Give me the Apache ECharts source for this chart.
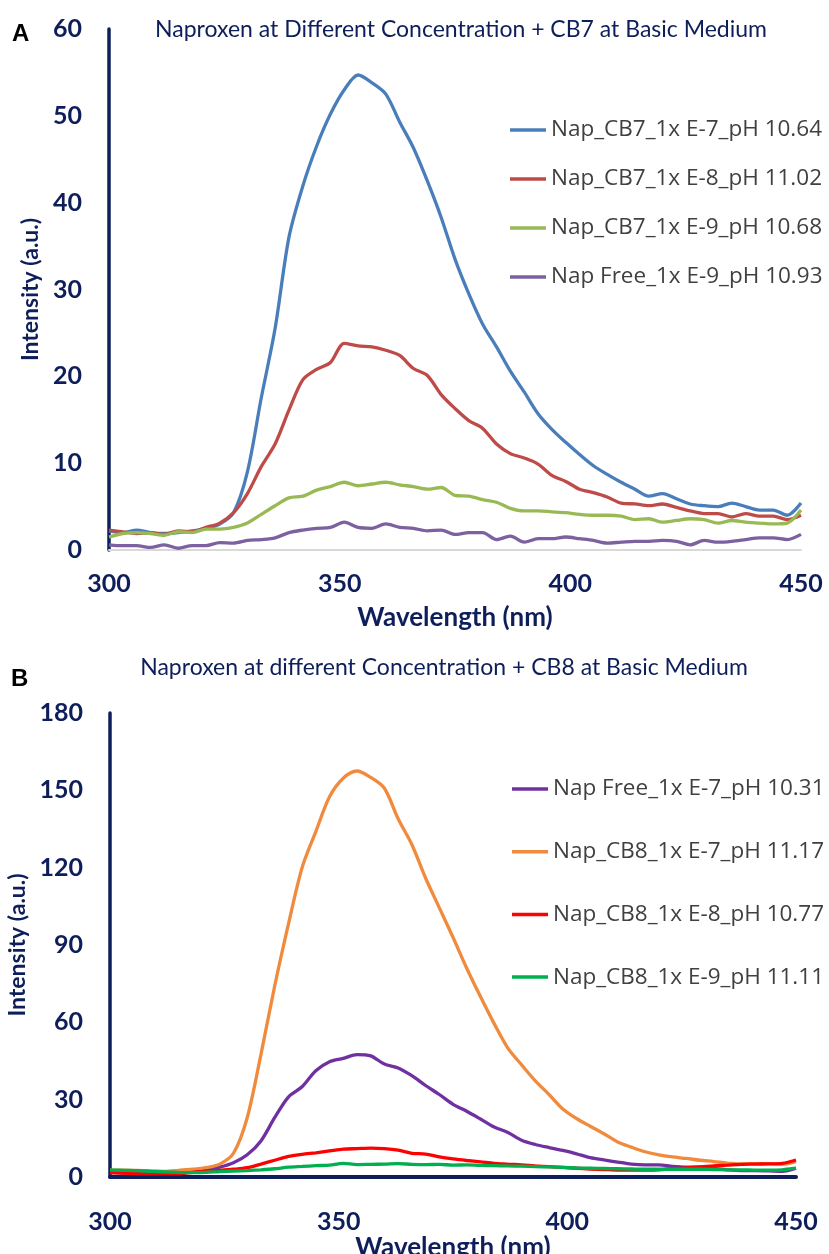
<!DOCTYPE html>
<html>
<head>
<meta charset="utf-8">
<title>Naproxen CB7 / CB8</title>
<script src="https://cdn.jsdelivr.net/npm/echarts@6/dist/echarts.min.js"></script>
<style>
  html, body { margin: 0; padding: 0; background: #fff; }
  #chart { width: 829px; height: 1254px; }
</style>
</head>
<body>
<div id="chart"></div>
<script>
// wavelength (nm), shared by every series
const wavelengths = [300, 303, 306, 309, 312, 315, 318, 321, 324, 327, 330, 333, 336, 339, 342, 345, 348,
  351, 354, 357, 360, 363, 366, 369, 372, 375, 378, 381, 384, 387, 390, 393, 396, 399, 402, 405, 408,
  411, 414, 417, 420, 423, 426, 429, 432, 435, 438, 441, 444, 447, 450]
const xTicks = [300, 350, 400, 450]

// panel A - CB7
const namesA = ['Nap_CB7_1x E-7_pH 10.64', 'Nap_CB7_1x E-8_pH 11.02', 'Nap_CB7_1x E-9_pH 10.68', 'Nap Free_1x E-9_pH 10.93']
const cb7E7 = [2.2, 2.0, 2.3, 2.0, 1.9, 2.0, 2.2, 2.5, 3.0, 4.3, 9, 17.5, 25.5, 36, 41.9, 46.5, 50.2,
  53, 54.7, 53.8, 52.5, 49.3, 46.3, 42.5, 38.3, 33.5, 29.5, 26, 23.4, 20.6, 18.2, 15.7, 13.9, 12.4, 11, 9.7, 8.7,
  7.8, 7.0, 6.2, 6.5, 5.9, 5.3, 5.1, 5.0, 5.4, 5.0, 4.6, 4.6, 4.0, 5.4]
const cb7E8 = [2.3, 2.1, 1.9, 2.0, 1.8, 2.2, 2.1, 2.6, 3.1, 4.3, 6.5, 9.6, 12.2, 16.1, 19.6, 20.8, 21.6,
  23.8, 23.5, 23.4, 23.0, 22.4, 20.9, 20.1, 17.9, 16.3, 14.9, 14.0, 12.2, 11.1, 10.6, 9.9, 8.6, 7.9, 7.0, 6.6, 6.1,
  5.4, 5.3, 5.1, 5.3, 4.9, 4.5, 4.2, 4.2, 3.8, 4.2, 3.9, 3.9, 3.5, 4.0]
const cb7E9 = [1.5, 1.9, 2.0, 1.9, 1.7, 2.1, 2.0, 2.4, 2.4, 2.6, 3.1, 4.1, 5.1, 6.0, 6.2, 6.9, 7.3,
  7.8, 7.4, 7.6, 7.8, 7.5, 7.3, 7.0, 7.2, 6.3, 6.2, 5.8, 5.5, 4.8, 4.5, 4.5, 4.4, 4.3, 4.1, 4.0, 4.0,
  3.9, 3.5, 3.6, 3.2, 3.4, 3.6, 3.5, 3.1, 3.4, 3.2, 3.1, 3.0, 3.1, 4.6]
const freeE9 = [0.6, 0.5, 0.5, 0.3, 0.6, 0.2, 0.5, 0.5, 0.85, 0.8, 1.1, 1.2, 1.4, 2.0, 2.3, 2.5, 2.6,
  3.2, 2.6, 2.5, 3.0, 2.6, 2.5, 2.2, 2.3, 1.8, 2.0, 2.0, 1.2, 1.6, 0.9, 1.3, 1.3, 1.5, 1.3, 1.1, 0.8,
  0.9, 1.0, 1.0, 1.1, 1.0, 0.6, 1.1, 0.9, 1.0, 1.2, 1.4, 1.4, 1.2, 1.8]

// panel B - CB8
const namesB = ['Nap Free_1x E-7_pH 10.31', 'Nap_CB8_1x E-7_pH 11.17', 'Nap_CB8_1x E-8_pH 10.77', 'Nap_CB8_1x E-9_pH 11.11']
const freeE7 = [1.7, 1.5, 1.4, 1.4, 1.4, 1.6, 2.2, 2.8, 3.8, 5.5, 8.6, 14, 23, 31, 35, 41.2, 44.7,
  46, 47.5, 47, 43.8, 42.3, 39.3, 35.5, 32, 28.2, 25.5, 22.5, 19.4, 17.3, 14.3, 12.6, 11.4, 10.3, 9.0, 7.5, 6.6,
  5.8, 5.0, 4.7, 4.7, 4.1, 3.8, 3.8, 3.3, 2.8, 2.5, 2.5, 2.4, 2.2, 3.4]
const cb8E7 = [2.7, 2.7, 2.6, 2.4, 2.2, 2.6, 3.0, 3.6, 5.0, 9.2, 23, 47.5, 74, 98, 120, 134, 147.5,
  154.7, 157.5, 155, 150.8, 139, 129, 116, 104.5, 93, 81, 70, 59.5, 50, 43.5, 37.3, 32, 26.4, 22.7, 19.7, 16.8,
  13.6, 11.6, 9.8, 8.6, 7.8, 7.2, 6.5, 6.0, 5.4, 5.1, 5.2, 5.2, 5.0, 6.0]
const cb8E8 = [1.7, 1.5, 1.2, 1.2, 1.3, 1.2, 1.8, 2.3, 2.6, 3.0, 3.6, 5.0, 6.5, 8.0, 8.8, 9.4, 10.1,
  10.8, 11.0, 11.2, 11.0, 10.4, 9.2, 8.9, 7.8, 7.0, 6.4, 5.9, 5.3, 5.0, 4.7, 4.3, 4.0, 3.7, 3.4, 3.1, 2.9,
  2.7, 2.7, 2.7, 2.8, 3.2, 3.5, 3.9, 4.3, 4.6, 4.9, 5.0, 5.1, 5.3, 6.6]
const cb8E9 = [2.7, 2.6, 2.5, 2.2, 2.0, 1.8, 1.7, 1.8, 2.1, 2.3, 2.5, 2.8, 3.2, 3.8, 4.1, 4.4, 4.6,
  5.3, 4.8, 4.9, 5.0, 5.2, 4.9, 4.8, 4.9, 4.6, 4.7, 4.5, 4.4, 4.3, 4.2, 4.0, 3.9, 3.7, 3.5, 3.4, 3.3,
  3.2, 3.1, 3.0, 3.0, 3.0, 3.0, 3.0, 2.9, 2.8, 2.8, 2.7, 2.7, 2.8, 3.4]

const colorsA = ['#4a7ebb', '#be4b48', '#98b954', '#7d60a0']
const colorsB = ['#7030a0', '#f08a3c', '#ff0000', '#00b050']
const navy = '#0e1e5b'

function pairs(vals) {
  return vals.map((v, i) => [wavelengths[i], v])
}

function makeSeries(name, vals, color, idx) {
  return {
    name: name,
    type: 'line',
    xAxisIndex: idx,
    yAxisIndex: idx,
    symbol: 'none',
    smooth: 0.3,
    lineStyle: { width: 3.3, color: color },
    itemStyle: { color: color },
    data: pairs(vals)
  }
}

const chart = echarts.init(document.getElementById('chart'))

const series = []
;[cb7E7, cb7E8, cb7E9, freeE9].forEach((d, i) => series.push(makeSeries(namesA[i], d, colorsA[i], 0)))
;[freeE7, cb8E7, cb8E8, cb8E9].forEach((d, i) => series.push(makeSeries(namesB[i], d, colorsB[i], 1)))

function xAxis(idx, lineColor, lineWidth, margin) {
  return {
    type: 'value',
    gridIndex: idx,
    min: xTicks[0],
    max: xTicks[xTicks.length - 1],
    interval: 50,
    name: 'Wavelength (nm)',
    nameLocation: 'middle',
    nameGap: 55,
    nameTextStyle: { color: navy, fontFamily: 'Lato', fontWeight: 'bold', fontSize: 26 },
    axisLine: { show: true, lineStyle: { color: lineColor, width: lineWidth } },
    axisTick: { show: false },
    splitLine: { show: false },
    axisLabel: { color: navy, fontFamily: 'Lato', fontWeight: 'bold', fontSize: 25, margin: margin }
  }
}

function yAxis(idx, max, step) {
  return {
    type: 'value',
    gridIndex: idx,
    min: 0,
    max: max,
    interval: step,
    name: 'Intensity (a.u.)',
    nameLocation: 'middle',
    nameGap: 64,
    nameTextStyle: { color: navy, fontFamily: 'Lato', fontWeight: 'bold', fontSize: 23 },
    axisLine: { show: true, lineStyle: { color: navy, width: 3.5 } },
    axisTick: { show: false },
    splitLine: { show: false },
    axisLabel: { color: navy, fontFamily: 'Lato', fontWeight: 'bold', fontSize: 25, margin: 27 }
  }
}

const legendText = { color: '#404040', fontFamily: 'Open Sans', fontSize: 22.5, lineHeight: 24 }

const option = {
  backgroundColor: '#fff',
  animation: false,
  title: [
    {
      text: 'Naproxen at Different Concentration + CB7 at Basic Medium',
      left: 456, top: 13, textAlign: 'center',
      textStyle: { color: navy, fontFamily: 'Lato', fontWeight: 'normal', fontSize: 23 }
    },
    {
      text: 'Naproxen at different Concentration + CB8 at Basic Medium',
      left: 439, top: 651, textAlign: 'center',
      textStyle: { color: navy, fontFamily: 'Lato', fontWeight: 'normal', fontSize: 23 }
    }
  ],
  graphic: [
    { type: 'text', left: 12, top: 22, style: { text: 'A', font: 'bold 24px Liberation Sans', fill: '#000' } },
    { type: 'text', left: 11, top: 667, style: { text: 'B', font: 'bold 24px Liberation Sans', fill: '#000' } }
  ],
  legend: [
    {
      data: namesA, orient: 'vertical', left: 510, top: 118, padding: 0,
      icon: 'rect', itemWidth: 36, itemHeight: 3.5, itemGap: 25, textStyle: legendText
    },
    {
      data: namesB, orient: 'vertical', left: 512, top: 777, padding: 0,
      icon: 'rect', itemWidth: 36, itemHeight: 3.5, itemGap: 38.7, textStyle: legendText
    }
  ],
  grid: [
    { left: 109, right: 28, top: 29, height: 521, outerBoundsMode: 'none' },
    { left: 110, right: 33, top: 713, height: 464, outerBoundsMode: 'none' }
  ],
  xAxis: [xAxis(0, '#d9d9d9', 2, 21), xAxis(1, navy, 4, 32)],
  yAxis: [yAxis(0, 60, 10), yAxis(1, 180, 30)],
  series: series
}

chart.setOption(option)
</script>
</body>
</html>
